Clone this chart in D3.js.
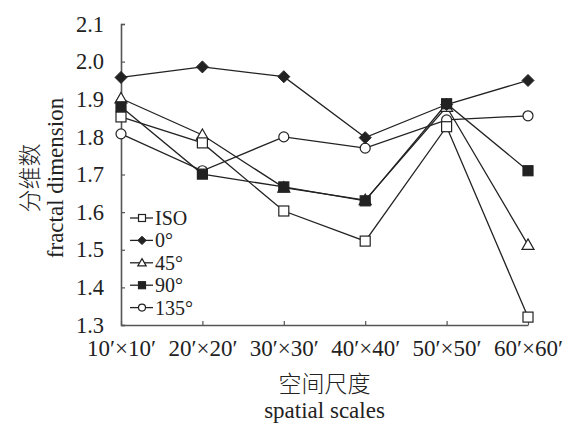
<!DOCTYPE html>
<html>
<head>
<meta charset="utf-8">
<script src="https://cdn.jsdelivr.net/npm/d3@7"></script>
<style>
  body { margin: 0; background: #fff; }
</style>
</head>
<body>
<div id="chart"></div>
<script>
// categories and tick labels
var scales = ["10\u2032\u00d710\u2032", "20\u2032\u00d720\u2032", "30\u2032\u00d730\u2032",
              "40\u2032\u00d740\u2032", "50\u2032\u00d750\u2032", "60\u2032\u00d760\u2032"];
var yTicks = [1.3, 1.4, 1.5, 1.6, 1.7, 1.8, 1.9, 2.0, 2.1];

// series values
var seriesNames = ["ISO", "0\u00b0", "45\u00b0", "90\u00b0", "135\u00b0"];
var isoVals  = [1.853, 1.784, 1.603, 1.523, 1.827, 1.321];
var deg0     = [1.958, 1.986, 1.960, 1.798, 1.886, 1.950];
var deg45    = [1.902, 1.805, 1.665, 1.632, 1.880, 1.513];
var deg90    = [1.880, 1.701, 1.667, 1.630, 1.888, 1.710];
var deg135   = [1.808, 1.710, 1.800, 1.770, 1.845, 1.856];

var symbols = ["squareOpen", "diamond", "triangleOpen", "squareFilled", "circleOpen"];
var series = [isoVals, deg0, deg45, deg90, deg135].map(function(v, i) {
	return {name: seriesNames[i], values: v, sym: symbols[i]};
});

var width = 572, height = 424,
	margin = {top: 24, right: 44, bottom: 99, left: 121};
var w = width - margin.left - margin.right,
	h = height - margin.top - margin.bottom;

var serif = "'Liberation Serif', 'Times New Roman', serif",
	cjk = "'Noto Sans CJK SC', sans-serif";

var svg = d3.select("#chart").append("svg")
	.attr("width", width)
	.attr("height", height);

var g = svg.append("g")
	.attr("transform", "translate(" + margin.left + "," + margin.top + ")");

var x = d3.scalePoint().domain(scales).range([0, w]).padding(0),
	y = d3.scaleLinear().domain([1.3, 2.1]).range([h, 0]);

var ink = "#222", axisInk = "#555";

// y axis, ticks pointing inward
var yAxis = g.append("g")
	.call(d3.axisLeft(y).tickValues(yTicks).tickSize(-4).tickPadding(17)
		.tickFormat(d3.format(".1f")));
yAxis.attr("font-family", null);
yAxis.select(".domain").attr("stroke", axisInk).attr("stroke-width", 1.6);
yAxis.selectAll(".tick line").attr("stroke", axisInk).attr("stroke-width", 1.2);
yAxis.selectAll(".tick text")
	.style("font-family", serif).style("font-size", "22.5px").attr("fill", ink);

// x axis
var xAxis = g.append("g")
	.attr("transform", "translate(0," + h + ")")
	.call(d3.axisBottom(x).tickSize(-4).tickPadding(15).tickSizeOuter(0));
xAxis.attr("font-family", null);
xAxis.select(".domain").attr("stroke", axisInk).attr("stroke-width", 1.6);
xAxis.selectAll(".tick line").attr("stroke", axisInk).attr("stroke-width", 1.2);
xAxis.selectAll(".tick text")
	.style("font-family", serif).style("font-size", "23px").attr("fill", ink);

// lines
var line = d3.line()
	.x(function(d, i) { return x(scales[i]); })
	.y(function(d) { return y(d); });

g.selectAll(".series-line")
	.data(series)
	.enter().append("path")
	.attr("class", "series-line")
	.attr("d", function(d) { return line(d.values); })
	.attr("fill", "none")
	.attr("stroke", ink)
	.attr("stroke-width", 1.3);

function drawMarker(sel, sym, size) {
	var s = size;
	if (sym == "squareOpen" || sym == "squareFilled") {
		sel.append("rect")
			.attr("x", -s / 2).attr("y", -s / 2)
			.attr("width", s).attr("height", s)
			.attr("fill", sym == "squareFilled" ? ink : "#fff")
			.attr("stroke", ink).attr("stroke-width", 1.2);
	} else if (sym == "diamond") {
		var r = s * 0.6;
		sel.append("path")
			.attr("d", "M0," + (-r) + "L" + r + ",0L0," + r + "L" + (-r) + ",0Z")
			.attr("fill", ink).attr("stroke", ink).attr("stroke-width", 1);
	} else if (sym == "triangleOpen") {
		var t = s * 0.6;
		sel.append("path")
			.attr("d", "M0," + (-t) + "L" + t + "," + (t * 0.75) + "L" + (-t) + "," + (t * 0.75) + "Z")
			.attr("fill", "#fff").attr("stroke", ink).attr("stroke-width", 1.2);
	} else {
		sel.append("circle")
			.attr("r", s / 2)
			.attr("fill", "#fff").attr("stroke", ink).attr("stroke-width", 1.2);
	}
}

// markers, drawn so filled squares sit on top
var drawOrder = [4, 2, 0, 1, 3];
drawOrder.forEach(function(si) {
	var sr = series[si];
	sr.values.forEach(function(v, i) {
		var m = g.append("g")
			.attr("transform", "translate(" + x(scales[i]) + "," + y(v) + ")");
		drawMarker(m, sr.sym, 10);
	});
});

// legend
var legend = g.selectAll(".legend")
	.data(series)
	.enter().append("g")
	.attr("class", "legend")
	.attr("transform", function(d, i) { return "translate(9," + (194 + i * 22.4) + ")"; });

legend.append("line")
	.attr("x1", 0).attr("x2", 23)
	.attr("stroke", ink).attr("stroke-width", 1.3);

legend.each(function(d) {
	var m = d3.select(this).append("g").attr("transform", "translate(12,0)");
	drawMarker(m, d.sym, 7);
});

legend.append("text")
	.attr("x", 25)
	.attr("dy", "0.35em")
	.attr("fill", ink)
	.style("font-family", serif)
	.style("font-size", "20px")
	.text(function(d) { return d.name; });

// axis titles
svg.append("text")
	.attr("transform", "translate(38,178) rotate(-90)")
	.attr("text-anchor", "middle")
	.attr("fill", ink)
	.style("font-family", cjk)
	.style("font-weight", 300)
	.style("font-size", "23px")
	.text("分维数");

svg.append("text")
	.attr("transform", "translate(63,178) rotate(-90)")
	.attr("text-anchor", "middle")
	.attr("fill", ink)
	.style("font-family", serif)
	.style("font-size", "23px")
	.text("fractal dimension");

svg.append("text")
	.attr("x", margin.left + w / 2)
	.attr("y", 392)
	.attr("text-anchor", "middle")
	.attr("fill", ink)
	.style("font-family", cjk)
	.style("font-weight", 300)
	.style("font-size", "23px")
	.text("空间尺度");

svg.append("text")
	.attr("x", margin.left + w / 2)
	.attr("y", 418)
	.attr("text-anchor", "middle")
	.attr("fill", ink)
	.style("font-family", serif)
	.style("font-size", "23px")
	.text("spatial scales");
</script>
</body>
</html>
